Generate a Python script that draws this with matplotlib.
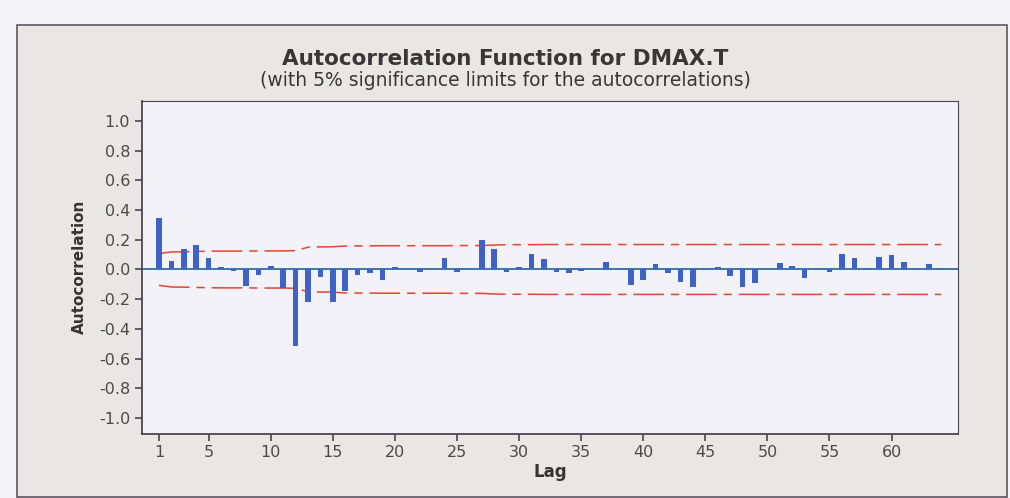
import numpy as np
import matplotlib
matplotlib.use("Agg")
import matplotlib.pyplot as plt
from matplotlib.patches import Rectangle

plt.rcParams['font.family'] = ['DejaVu Sans']
plt.rcParams['axes.unicode_minus'] = False
plt.rcParams['lines.scale_dashes'] = False

# ACF values, lags 1..64
lags = np.arange(1, 65)
acf = [0.347, 0.054, 0.137, 0.164, 0.079, 0.020, -0.007, -0.113, -0.036, 0.023,
       -0.126, -0.518, -0.219, -0.052, -0.219, -0.142, -0.040, -0.023, -0.068, 0.016,
       0.009, -0.020, 0.003, 0.077, -0.014, 0.002, 0.196, 0.137, -0.020, 0.020,
       0.104, 0.072, -0.018, -0.024, -0.011, 0.002, 0.050, 0.009, -0.106, -0.074,
       0.034, -0.023, -0.081, -0.115, -0.002, 0.014, -0.047, -0.115, -0.088, 0.003,
       0.043, 0.025, -0.059, -0.003, -0.016, 0.101, 0.074, 0.009, 0.086, 0.095,
       0.052, 0.009, 0.038, 0.011]

# 5% significance limits (upper; lower is the mirror)
limit = [0.107, 0.118, 0.119, 0.121, 0.123, 0.124, 0.124, 0.124, 0.125, 0.125,
         0.125, 0.127, 0.150, 0.152, 0.153, 0.158, 0.159, 0.159, 0.160, 0.160,
         0.160, 0.160, 0.160, 0.160, 0.161, 0.161, 0.161, 0.165, 0.167, 0.167,
         0.167, 0.168, 0.168, 0.168, 0.168, 0.168, 0.168, 0.168, 0.168, 0.168,
         0.168, 0.168, 0.168, 0.168, 0.168, 0.168, 0.168, 0.168, 0.168, 0.168,
         0.168, 0.168, 0.168, 0.168, 0.168, 0.168, 0.168, 0.168, 0.168, 0.168,
         0.168, 0.168, 0.168, 0.168]

xticks = [1, 5, 10, 15, 20, 25, 30, 35, 40, 45, 50, 55, 60]
yticks = [1.0, 0.8, 0.6, 0.4, 0.2, 0.0, -0.2, -0.4, -0.6, -0.8, -1.0]

fig = plt.figure(figsize=(10.10, 4.98), dpi=100)
fig.patch.set_facecolor("#f5f5f9")

# grey outer panel, kept behind the axes
panel = Rectangle((17 / 1010, 1 - 497 / 498), 990 / 1010, 472 / 498,
                  transform=fig.transFigure, facecolor="#e9e7e3",
                  edgecolor="#5a5660", linewidth=1.2, zorder=-10)
fig.patches.append(panel)

ax = fig.add_axes([142 / 1010, 1 - 433.5 / 498, 816 / 1010, 332.5 / 498])
ax.set_zorder(1)
ax.set_facecolor("#f3f2f9")

ax.bar(lags, acf, width=0.45, color="#3f62c6", zorder=3)
ax.axhline(0, color="#2d6ea6", linewidth=1.3, zorder=2)
lim = np.array(limit)
dash = [22, 5, 6, 5]
ax.plot(lags, lim, color="#e5442e", linewidth=1.1, dashes=dash, zorder=2)
ax.plot(lags, -lim, color="#e5442e", linewidth=1.1, dashes=dash, zorder=2)

ax.set_xlim(-0.37, 65.35)
ax.set_ylim(-1.105, 1.135)
ax.set_xticks(xticks)
ax.set_yticks(yticks)
ax.set_yticklabels([f"{v:.1f}" for v in yticks])
ax.tick_params(direction="out", length=5, width=1.2, color="#4a4650",
               labelcolor="#4a4a4a", labelsize=11.5)
for s in ["top", "right"]:
    ax.spines[s].set_color("#4a4650")
for s in ["left", "bottom"]:
    ax.spines[s].set_color("#4a4650")
    ax.spines[s].set_linewidth(1.3)

ax.set_xlabel("Lag", fontsize=12, fontweight="bold", color="#333333", labelpad=2)
ax.set_ylabel("Autocorrelation", fontsize=11, fontweight="bold", color="#333333",
              labelpad=9)

fig.text(0.5, 1 - 59 / 498, "Autocorrelation Function for DMAX.T",
         ha="center", va="center", fontsize=15.5, fontweight="bold", color="#3a3638")
fig.text(0.5, 1 - 80 / 498, "(with 5% significance limits for the autocorrelations)",
         ha="center", va="center", fontsize=13.5, color="#3a3638")

fig.savefig("out.png", dpi=100, facecolor=fig.get_facecolor())
